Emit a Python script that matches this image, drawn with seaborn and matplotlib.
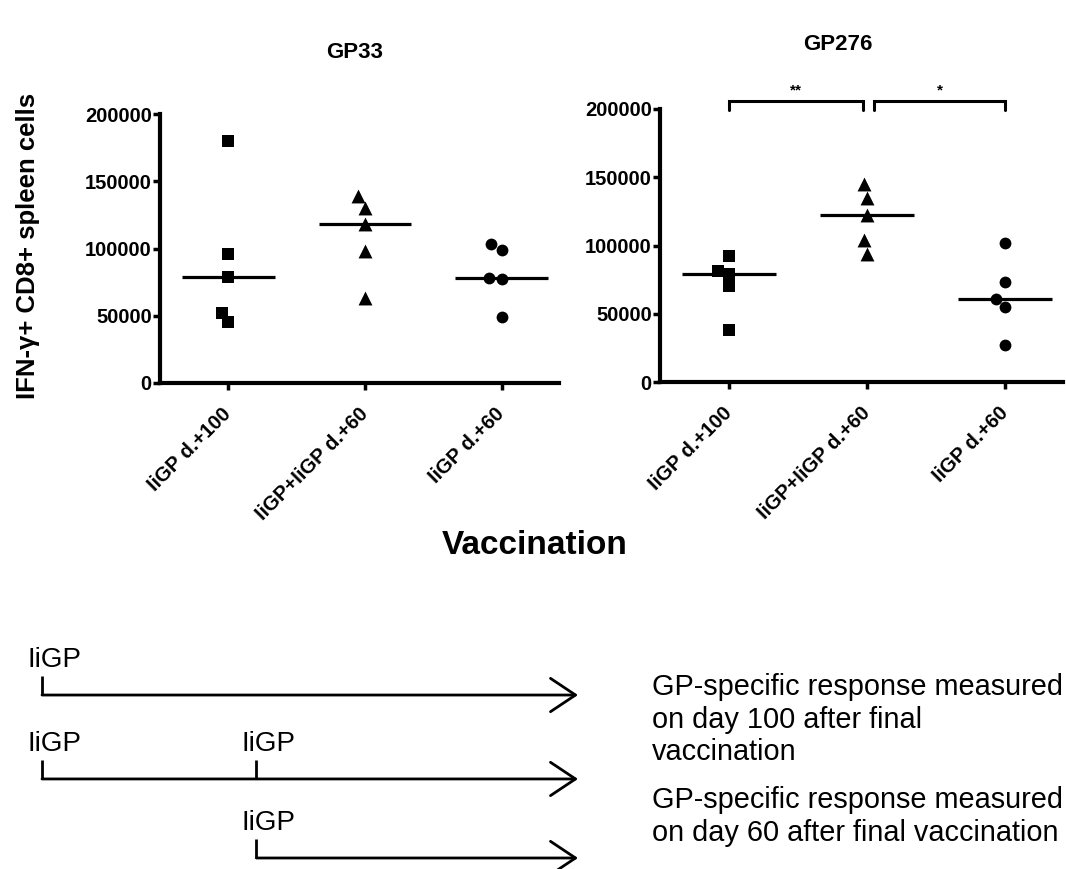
import numpy as np
import pandas as pd
import matplotlib
matplotlib.use("Agg")
import matplotlib.pyplot as plt
import seaborn as sns
from matplotlib.patches import FancyArrowPatch

# ---------------- data ----------------
categories = ["IiGP d.+100", "IiGP+IiGP d.+60", "IiGP d.+60"]
markers = ["s", "^", "o"]
marker_sizes = [8, 10, 8.5]

gp33_d100 = [180000, 96000, 79000, 52000, 45000]
gp33_boost_d60 = [139000, 130000, 118000, 98000, 63000]
gp33_d60 = [103000, 99000, 78000, 77000, 49000]

gp276_d100 = [92000, 81000, 79000, 70000, 38000]
gp276_boost_d60 = [145000, 135000, 122000, 104000, 94000]
gp276_d60 = [102000, 73000, 61000, 55000, 27000]

panel_titles = ["GP33", "GP276"]
yticks = [0, 50000, 100000, 150000, 200000]

sig_pairs = [(0, 1), (1, 2)]
sig_labels = ["**", "*"]

# schematic: vaccination days per row, measurement day
vacc_days = [[0], [0, 40], [40]]
end_day = 100
vacc_label = "IiGP"
legend_texts = ["GP-specific response measured\non day 100 after final\nvaccination",
                "GP-specific response measured\non day 60 after final vaccination"]


def make_df(a, b, c):
    return pd.DataFrame({
        "group": [categories[0]] * len(a) + [categories[1]] * len(b) + [categories[2]] * len(c),
        "value": list(a) + list(b) + list(c),
    })


df33 = make_df(gp33_d100, gp33_boost_d60, gp33_d60)
df276 = make_df(gp276_d100, gp276_boost_d60, gp276_d60)

sns.set_theme(style="white")
plt.rcParams["font.family"] = ["Liberation Sans", "DejaVu Sans"]
plt.rcParams["text.color"] = "black"
plt.rcParams["axes.labelcolor"] = "black"
plt.rcParams["xtick.color"] = "black"
plt.rcParams["ytick.color"] = "black"

W, H = 1066, 869
fig = plt.figure(figsize=(W / 100, H / 100), dpi=100)


def px_axes(x0, y_top, x1, y_bot):
    return fig.add_axes([x0 / W, 1 - y_bot / H, (x1 - x0) / W, (y_bot - y_top) / H])


ax1 = px_axes(160, 114, 559, 383)
ax2 = px_axes(660, 109, 1063, 382)

for ax, df in [(ax1, df33), (ax2, df276)]:
    sns.boxplot(data=df, x="group", y="value", order=categories, ax=ax,
                showbox=False, showcaps=False, showfliers=False,
                whiskerprops={"visible": False},
                medianprops={"color": "black", "linewidth": 2.3},
                width=0.68)
    for i, cat in enumerate(categories):
        sub = df[df["group"] == cat]
        sns.swarmplot(data=sub, x="group", y="value", order=categories, ax=ax,
                      marker=markers[i], color="black", size=marker_sizes[i],
                      linewidth=0)
    ax.set_xlim(-0.5, 2.42)
    ax.set_ylim(0, 200000)
    ax.set_yticks(yticks)
    ax.set_yticklabels([str(v) for v in yticks], fontsize=14.5, fontweight="bold")
    ax.set_xticks(range(len(categories)))
    ax.set_xticklabels(categories, fontsize=14.5, fontweight="bold", rotation=45,
                       ha="right", va="center", rotation_mode="anchor")
    ax.set_xlabel("")
    ax.set_ylabel("")
    for s in ["top", "right"]:
        ax.spines[s].set_visible(False)
    for s in ["left", "bottom"]:
        ax.spines[s].set_linewidth(3)
        ax.spines[s].set_color("black")
    ax.tick_params(axis="both", direction="out", length=5, width=2.5, color="black",
                   left=True, bottom=True)
    ax.tick_params(axis="x", pad=15)
    ax.tick_params(axis="y", pad=1)
    ax.set_facecolor("none")

# significance brackets on GP276 panel
for (a, b), lab, off in zip(sig_pairs, sig_labels, [(0.0, -0.03), (0.05, 0.0)]):
    xa, xb = a + off[0], b + off[1]
    ax2.plot([xa, xa, xb, xb], [199000, 206000, 206000, 199000], color="black",
             lw=2.2, clip_on=False, solid_joinstyle="miter")
    ax2.text((xa + xb) / 2, 208500, lab, ha="center", va="bottom", fontsize=11,
             fontweight="bold")

fig.text(355 / W, 1 - 52 / H, panel_titles[0], ha="center", va="center",
         fontsize=16, fontweight="bold")
fig.text(838 / W, 1 - 45 / H, panel_titles[1], ha="center", va="center",
         fontsize=16, fontweight="bold")
fig.text(28 / W, 1 - 246 / H, "IFN-γ+ CD8+ spleen cells", rotation=90,
         ha="center", va="center", fontsize=18.5, fontweight="bold")
fig.text(535 / W, 1 - 546 / H, "Vaccination", ha="center", va="center",
         fontsize=24, fontweight="bold")

# ---------------- schematic ----------------
axd = px_axes(42, 630, 578, 869)
axd.set_xlim(0, end_day)
axd.set_ylim(2.135, -0.798)
axd.axis("off")
row_gap = [0, 1.03, 2.0]
for r, days in enumerate(vacc_days):
    yr = row_gap[r]
    start = min(days)
    arr = FancyArrowPatch((start, yr), (end_day, yr),
                          arrowstyle="->,head_length=0.9,head_width=0.6",
                          mutation_scale=20, lw=2.0, color="black",
                          shrinkA=0, shrinkB=0, clip_on=False)
    axd.add_patch(arr)
    for d in days:
        axd.plot([d, d], [yr - 0.233, yr], color="black", lw=2.0,
                 solid_capstyle="butt", clip_on=False)
        axd.annotate(vacc_label, xy=(d, yr), xytext=(-15, 28),
                     textcoords="offset pixels", ha="left", va="baseline",
                     fontsize=20, annotation_clip=False)

fig.text(652 / W, 1 - 673 / H, legend_texts[0], ha="left", va="top",
         fontsize=20.8, linespacing=1.21)
fig.text(652 / W, 1 - 786 / H, legend_texts[1], ha="left", va="top",
         fontsize=20.8, linespacing=1.21)

fig.savefig("out.png", dpi=100, facecolor="white")
